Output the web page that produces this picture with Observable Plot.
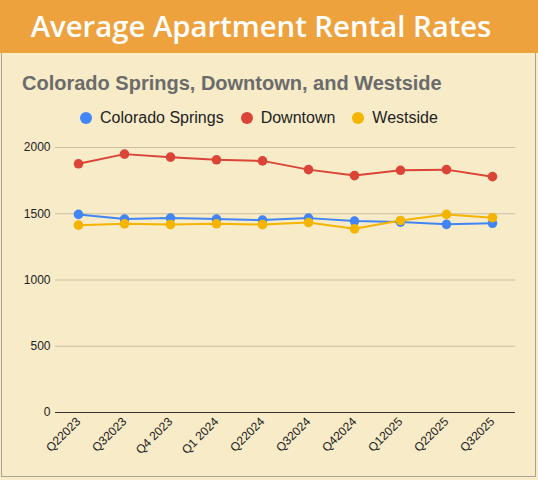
<!DOCTYPE html>
<html>
<head>
<meta charset="utf-8">
<script src="https://cdn.jsdelivr.net/npm/d3@7"></script>
<script src="https://cdn.jsdelivr.net/npm/@observablehq/plot@0.6"></script>
<style>
  body { margin: 0; width: 538px; height: 480px; background: #f7ebc8; overflow: hidden; position: relative; font-family: "Liberation Sans", Arial, sans-serif; }
  #header { position: absolute; left: 0; top: 0; width: 538px; height: 53px; background: #eea23e; color: #fff;
    font-family: "Open Sans", sans-serif; font-weight: 600; font-size: 29.3px; text-align: center; line-height: 53px; padding-right: 16px; box-sizing: border-box; }
  #panel { position: absolute; left: 1px; top: 53px; width: 535px; height: 424px; border: 1px solid #a8a394; border-top: none; box-sizing: border-box; }
  #subtitle { position: absolute; left: 22px; top: 72px; font-weight: bold; font-size: 20px; color: #6b6b6b; }
  #legend { position: absolute; left: 80px; top: 109px; display: flex; gap: 17px; font-size: 16px; color: #222; }
  #legend span { display: flex; align-items: center; }
  #legend i { display: inline-block; width: 12px; height: 12px; border-radius: 50%; margin-right: 8px; }
  #chart { position: absolute; left: 0; top: 135px; }
</style>
</head>
<body>
<div id="header">Average Apartment Rental Rates</div>
<div id="panel"></div>
<div id="subtitle">Colorado Springs, Downtown, and Westside</div>
<div id="legend"></div>
<div id="chart"></div>
<script>
// quarters along the x axis
const quarters = ["Q22023", "Q32023", "Q4 2023", "Q1 2024", "Q22024", "Q32024", "Q42024", "Q12025", "Q22025", "Q32025"]
// average rents
const coloradoSprings = [1495, 1460, 1467, 1460, 1452, 1467, 1445, 1437, 1420, 1428]
const downtown = [1877, 1950, 1927, 1907, 1899, 1833, 1788, 1828, 1833, 1780]
const westside = [1414, 1424, 1419, 1424, 1419, 1434, 1386, 1449, 1495, 1470]
const yTicks = [0, 500, 1000, 1500, 2000]

const seriesNames = ["Colorado Springs", "Downtown", "Westside"]
const seriesColors = ["#4285f4", "#db4437", "#f4b400"]
const seriesValues = [coloradoSprings, downtown, westside]

let data = []
seriesNames.forEach((name, i) => {
  quarters.forEach((q, j) => data.push({quarter: q, series: name, rent: seriesValues[i][j]}))
})

// legend
d3.select("#legend").selectAll("span").data(seriesNames).join("span")
  .html((d, i) => `<i style="background:${seriesColors[i]}"></i>${d}`)

let chart = Plot.plot({
  width: 538,
  height: 342,
  marginLeft: 55,
  marginRight: 23,
  marginTop: 12,
  marginBottom: 65,
  style: {background: "transparent", fontFamily: "'Liberation Sans', Arial, sans-serif", fontSize: "12px", color: "#222"},
  x: {type: "point", domain: quarters, padding: 0.5, label: null},
  y: {domain: [0, 2000], label: null},
  color: {domain: seriesNames, range: seriesColors},
  marks: [
    Plot.ruleY(yTicks.filter(d => d > 0), {stroke: "#c9bfa3", strokeOpacity: 1}),
    Plot.ruleY([0], {stroke: "#333", strokeWidth: 1.2}),
    Plot.axisY({ticks: yTicks, tickFormat: d => String(d), tickSize: 0, tickPadding: 5, fontSize: 12}),
    Plot.axisX({tickSize: 0, tickRotate: -45, tickPadding: 7, fontSize: 12}),
    Plot.line(data, {x: "quarter", y: "rent", z: "series", stroke: "series", strokeWidth: 2}),
    Plot.dot(data, {x: "quarter", y: "rent", fill: "series", r: 4.8})
  ]
})

d3.select("#chart").append(() => chart)
</script>
</body>
</html>
